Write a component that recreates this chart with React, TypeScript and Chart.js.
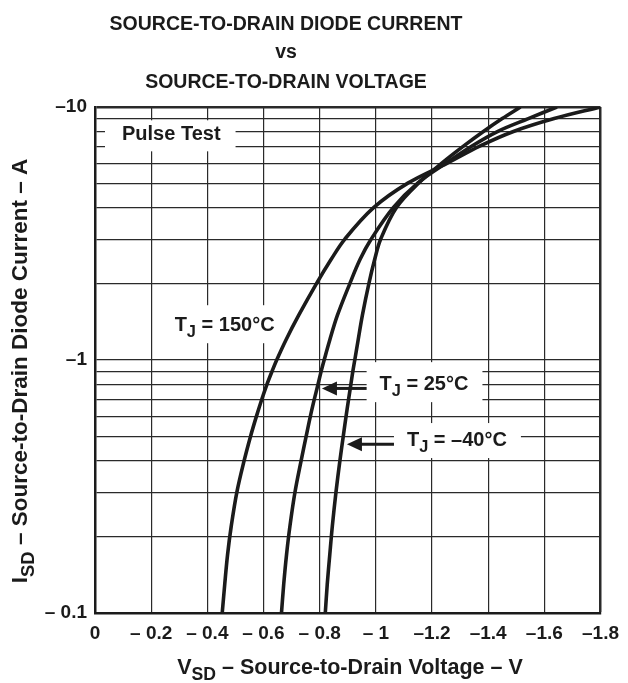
import React, { useEffect, useRef } from 'react';
import { Chart, registerables } from 'chart.js';

Chart.register(...registerables);

const FAMILY = '"Liberation Sans", Arial, Helvetica, sans-serif';

const TITLE_LINES = ['SOURCE-TO-DRAIN DIODE CURRENT', 'vs', 'SOURCE-TO-DRAIN VOLTAGE'];

// x axis: |V_SD| in volts (labels negative)
const X_TICKS = [0, 0.2, 0.4, 0.6, 0.8, 1.0, 1.2, 1.4, 1.6, 1.8];
const X_TICK_LABELS = ['0', '– 0.2', '– 0.4', '– 0.6', '– 0.8', '– 1', '–1.2', '–1.4', '–1.6', '–1.8'];

// y axis: |I_SD| in amperes (log), labels negative
const Y_TICKS = [0.1, 0.2, 0.3, 0.4, 0.5, 0.6, 0.7, 0.8, 0.9, 1, 2, 3, 4, 5, 6, 7, 8, 9, 10];
const Y_LABELED = [0.1, 1, 10];
const Y_LABEL_TEXT = ['– 0.1', '–1', '–10'];

// |I_SD| levels (A) at which the curves were read
const I_READ = [0.1, 0.13, 0.17, 0.22, 0.3, 0.4, 0.5, 0.6, 0.7, 0.8, 0.9, 1, 1.2, 1.5, 2, 2.5, 3, 4, 5, 6, 7, 8, 9, 10];

// |V_SD| (V) for T_J = 150 °C
const V_150 = [0.453, 0.462, 0.472, 0.485, 0.505, 0.531, 0.554, 0.575, 0.594, 0.612, 0.63, 0.647, 0.68, 0.725, 0.788, 0.841, 0.889, 0.992, 1.114, 1.255, 1.37, 1.49, 1.635, 1.8];
// |V_SD| (V) for T_J = 25 °C
const V_25 = [0.664, 0.672, 0.682, 0.694, 0.712, 0.734, 0.752, 0.767, 0.781, 0.794, 0.805, 0.816, 0.836, 0.863, 0.907, 0.944, 0.983, 1.062, 1.149, 1.25, 1.341, 1.433, 1.543, 1.645];
// |V_SD| (V) for T_J = -40 °C
const V_M40 = [0.82, 0.827, 0.836, 0.845, 0.858, 0.872, 0.884, 0.894, 0.903, 0.911, 0.918, 0.925, 0.937, 0.952, 0.975, 0.996, 1.017, 1.073, 1.152, 1.235, 1.312, 1.383, 1.45, 1.515];

type Part = { t: string; sub?: boolean };

// annotation anchors in data coordinates (V, |I|)
const NOTES = [
  { parts: [{ t: 'Pulse Test' }] as Part[], v: 0.2716, i: 7.87, padL: 17, padR: 15, up: 13, down: 18, arrow: null as null | { v: number; i: number } },
  { parts: [{ t: 'T' }, { t: 'J', sub: true }, { t: ' = 150°C' }] as Part[], v: 0.4615, i: 1.385, padL: 12, padR: 8, up: 19, down: 19, arrow: null },
  { parts: [{ t: 'T' }, { t: 'J', sub: true }, { t: ' = 25°C' }] as Part[], v: 1.1716, i: 0.81, padL: 13, padR: 14, up: 21, down: 19, arrow: { v: 0.808, i: 0.772 } },
  { parts: [{ t: 'T' }, { t: 'J', sub: true }, { t: ' = –40°C' }] as Part[], v: 1.2888, i: 0.487, padL: 13, padR: 14, up: 16, down: 19, arrow: { v: 0.897, i: 0.464 } },
];

const INK = '#1b1b1b';

function measureRich(ctx: CanvasRenderingContext2D, parts: Part[], size: number) {
  let w = 0;
  for (const p of parts) {
    ctx.font = `bold ${p.sub ? size * 0.82 : size}px ${FAMILY}`;
    w += ctx.measureText(p.t).width;
  }
  return w;
}

function drawRich(ctx: CanvasRenderingContext2D, parts: Part[], x: number, y: number, size: number) {
  // x: left, y: baseline
  let cx = x;
  ctx.textAlign = 'left';
  ctx.textBaseline = 'alphabetic';
  for (const p of parts) {
    ctx.font = `bold ${p.sub ? size * 0.82 : size}px ${FAMILY}`;
    ctx.fillText(p.t, cx, y + (p.sub ? size * 0.3 : 0));
    cx += ctx.measureText(p.t).width;
  }
}

const notesPlugin = {
  id: 'notes',
  beforeDatasetsDraw(chart: any) {
    const ctx: CanvasRenderingContext2D = chart.ctx;
    const xs = chart.scales.x;
    const ys = chart.scales.y;
    const size = 20;
    ctx.save();
    for (const n of NOTES) {
      const cx = xs.getPixelForValue(n.v);
      const cy = ys.getPixelForValue(n.i);
      const w = measureRich(ctx, n.parts, size);
      const left = cx - w / 2;
      ctx.fillStyle = '#ffffff';
      ctx.fillRect(left - n.padL, cy - n.up, w + n.padL + n.padR, n.up + n.down);
      ctx.fillStyle = INK;
      drawRich(ctx, n.parts, left, cy + size * 0.358, size);
      if (n.arrow) {
        const tx = xs.getPixelForValue(n.arrow.v);
        const ty = ys.getPixelForValue(n.arrow.i);
        const headLen = 15;
        const headHalf = 7;
        ctx.strokeStyle = INK;
        ctx.lineWidth = 3;
        ctx.beginPath();
        ctx.moveTo(tx + headLen - 1, ty);
        ctx.lineTo(left - n.padL, ty);
        ctx.stroke();
        ctx.beginPath();
        ctx.moveTo(tx, ty);
        ctx.lineTo(tx + headLen, ty - headHalf);
        ctx.lineTo(tx + headLen, ty + headHalf);
        ctx.closePath();
        ctx.fill();
      }
    }
    ctx.restore();
  },
  afterDraw(chart: any) {
    const ctx: CanvasRenderingContext2D = chart.ctx;
    ctx.save();
    ctx.fillStyle = INK;
    // title
    ctx.font = `bold 19.5px ${FAMILY}`;
    ctx.textAlign = 'center';
    ctx.textBaseline = 'alphabetic';
    const baselines = [29.5, 57.5, 87.5];
    TITLE_LINES.forEach((t, k) => ctx.fillText(t, 286, baselines[k]));
    // x axis title
    const xParts: Part[] = [{ t: 'V' }, { t: 'SD', sub: true }, { t: ' – Source-to-Drain Voltage – V' }];
    const xsz = 21.5;
    const xw = measureRich(ctx, xParts, xsz);
    drawRich(ctx, xParts, 350 - xw / 2, 674, xsz);
    // y axis title
    const yParts: Part[] = [{ t: 'I' }, { t: 'SD', sub: true }, { t: ' – Source-to-Drain Diode Current – A' }];
    const ysz = 22.5;
    const yw = measureRich(ctx, yParts, ysz);
    ctx.translate(27, 371);
    ctx.rotate(-Math.PI / 2);
    drawRich(ctx, yParts, -yw / 2, 0, ysz);
    ctx.restore();
  },
};

function series(iv: number[], vv: number[]) {
  return iv.map((c, k) => ({ x: vv[k], y: c }));
}

export default function App() {
  const ref = useRef<HTMLCanvasElement | null>(null);

  useEffect(() => {
    if (!ref.current) return;
    const tickFont = { family: FAMILY, size: 19, weight: 'bold' as const };
    const lineDs = (label: string, data: { x: number; y: number }[]) => ({
      label,
      data,
      borderColor: INK,
      borderWidth: 3.6,
      pointRadius: 0,
      fill: false,
      tension: 0.35,
      capBezierPoints: false,
    });
    const chart = new Chart(ref.current, {
      type: 'line',
      data: {
        datasets: [
          lineDs('TJ = 150°C', series(I_READ, V_150)),
          lineDs('TJ = 25°C', series(I_READ, V_25)),
          lineDs('TJ = –40°C', series(I_READ, V_M40)),
        ],
      },
      options: {
        animation: false,
        responsive: true,
        maintainAspectRatio: false,
        layout: { padding: { left: 10, right: 26, top: 107, bottom: 35 } },
        plugins: {
          legend: { display: false },
          tooltip: { enabled: false },
          title: { display: false },
        },
        scales: {
          x: {
            type: 'linear',
            min: 0,
            max: 1.8,
            afterBuildTicks: (s: any) => {
              s.ticks = X_TICKS.map((v) => ({ value: v }));
            },
            afterFit: (s: any) => {
              s.height = 35;
            },
            ticks: {
              autoSkip: false,
              maxRotation: 0,
              minRotation: 0,
              padding: 9,
              color: INK,
              font: tickFont,
              callback: (v: any) => {
                const k = X_TICKS.findIndex((t) => Math.abs(t - Number(v)) < 1e-6);
                return k >= 0 ? X_TICK_LABELS[k] : '';
              },
            },
            grid: {
              color: '#2a2a2a',
              lineWidth: (c: any) => (c.tick && Math.abs(c.tick.value - 1.8) < 1e-6 ? 2.5 : 1.2),
              drawTicks: false,
            },
            border: { color: INK, width: 2.5 },
          },
          y: {
            type: 'logarithmic',
            min: 0.1,
            max: 10,
            afterBuildTicks: (s: any) => {
              s.ticks = Y_TICKS.map((v) => ({ value: v }));
            },
            afterFit: (s: any) => {
              s.width = 85;
            },
            ticks: {
              autoSkip: false,
              padding: 8,
              color: INK,
              font: tickFont,
              callback: (v: any) => {
                const k = Y_LABELED.findIndex((t) => Math.abs(t - Number(v)) < 1e-6);
                return k >= 0 ? Y_LABEL_TEXT[k] : '';
              },
            },
            grid: {
              color: '#2a2a2a',
              lineWidth: (c: any) => (c.tick && Math.abs(c.tick.value - 10) < 1e-6 ? 2.5 : 1.2),
              drawTicks: false,
            },
            border: { color: INK, width: 2.5 },
          },
        },
      },
      plugins: [notesPlugin],
    } as any);
    return () => chart.destroy();
  }, []);

  return (
    <div style={{ position: 'absolute', left: 0, top: 0, width: 628, height: 683, background: '#fff' }}>
      <canvas ref={ref} />
    </div>
  );
}
